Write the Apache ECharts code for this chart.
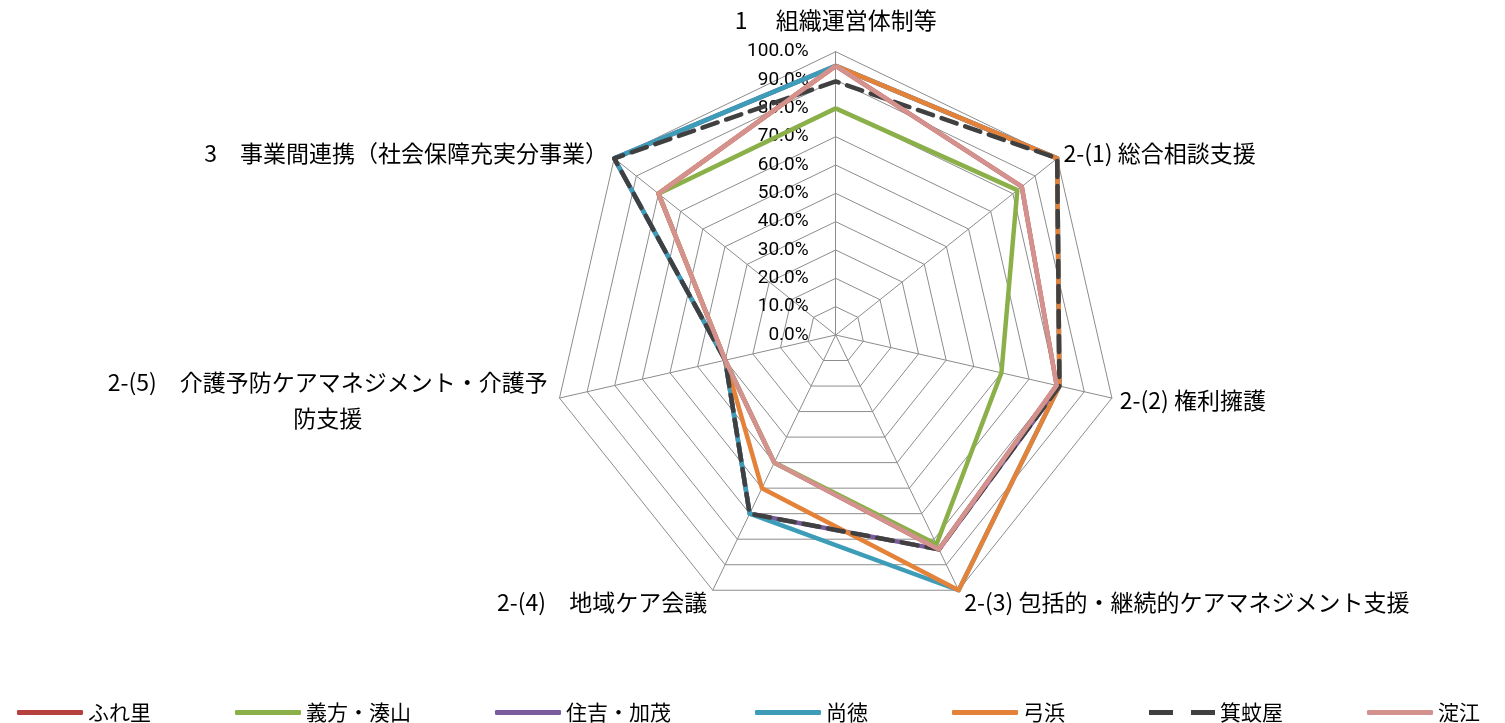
<!DOCTYPE html>
<html><head><meta charset="utf-8">
<script src="https://cdn.jsdelivr.net/npm/echarts@6/dist/echarts.min.js"></script>
<style>html,body{margin:0;padding:0;background:#fff}#c{width:1505px;height:723px}</style>
</head><body><div id="c"></div>
<script>
// categories in the reference's clockwise order
var indicatorNames = ['1　 組織運営体制等', '2-(1) 総合相談支援', '2-(2) 権利擁護', '2-(3) 包括的・継続的ケアマネジメント支援', '2-(4)　地域ケア会議', '2-(5)　介護予防ケアマネジメント・介護予防支援', '3　事業間連携（社会保障充実分事業）'];
var seriesNames = ['ふれ里', '義方・湊山', '住吉・加茂', '尚徳', '弓浜', '箕蚊屋', '淀江'];
var seriesColors = ['#B5403E', '#8BB04A', '#7A5C9E', '#3D9CB8', '#E5823A', '#404040', '#D4928F'];
var fureri    = [95, 84, 80, 84, 50, 40, 80];
var yoshikata = [80, 82, 60, 82, 50, 40, 80];
var sumiyoshi = [95, 100, 81, 84, 70, 40, 100];
var shotoku   = [95, 100, 81, 100, 70, 40, 100];
var yumigahama= [95, 100, 81, 100, 60, 40, 80];
var mikuriya  = [89.5, 100, 81, 84, 70, 40, 100];
var yodoe     = [95, 84, 80, 84, 50, 40, 80];
var seriesValues = [fureri, yoshikata, sumiyoshi, shotoku, yumigahama, mikuriya, yodoe];

// ECharts lays radar axes counter-clockwise; reorder so the picture runs clockwise
var order = [0, 6, 5, 4, 3, 2, 1];
var gapsByCat = [20, 8, 8, 13, 13, 12, 8];

var chart = echarts.init(document.getElementById('c'));
var indicators = order.map(function (k, i) {
  var o = { name: indicatorNames[k], min: 0, max: 100, nameGap: gapsByCat[k] };
  if (i > 0) o.axisLabel = { show: false };
  return o;
});
var cjk = '"Noto Sans CJK JP", "Noto Sans", sans-serif';
var option = {
  animation: false,
  color: seriesColors,
  legend: {
    top: 697, left: 12,
    itemWidth: 66, itemHeight: 5, itemGap: 84,
    textStyle: { fontFamily: cjk, fontSize: 21, color: '#000' },
    data: seriesNames.map(function (n, i) {
      return i === 5 ? { name: n, icon: 'path://M0 0h24v5h-24z M42 0h24v5h-24z' } : { name: n, icon: 'roundRect' };
    })
  },
  radar: {
    center: [835.7, 335],
    radius: 283.3,
    startAngle: 90,
    shape: 'polygon',
    splitNumber: 10,
    indicator: indicators,
    axisName: {
      color: '#000', fontFamily: cjk, fontSize: 23,
      formatter: function (v) {
        if (v.indexOf('2-(5)') === 0) {
          return '{a|2-(5)　介護予防ケアマネジメント・介護予}\n{a|防支援}';
        }
        return v;
      },
      rich: { a: { fontFamily: cjk, fontSize: 23, color: '#000', align: 'center', lineHeight: 36 } }
    },
    axisLine: { lineStyle: { color: '#8c8c8c', width: 1 } },
    splitLine: { lineStyle: { color: '#8c8c8c', width: 1 } },
    splitArea: { show: false },
    axisTick: { show: false },
    axisLabel: {
      show: true, color: '#000', fontFamily: 'Roboto, sans-serif', fontSize: 19, margin: 27,
      formatter: function (v) { return v.toFixed(1) + '%'; }
    }
  },
  series: [{
    type: 'radar',
    symbol: 'none',
    data: seriesNames.map(function (n, i) {
      return {
        name: n,
        value: order.map(function (k) { return seriesValues[i][k]; }),
        itemStyle: { color: seriesColors[i] },
        lineStyle: i === 5 ? { color: seriesColors[i], width: 4.5, type: [16, 9], cap: 'round' } : { color: seriesColors[i], width: 4.5 }
      };
    })
  }]
};
chart.setOption(option);
</script></body></html>
